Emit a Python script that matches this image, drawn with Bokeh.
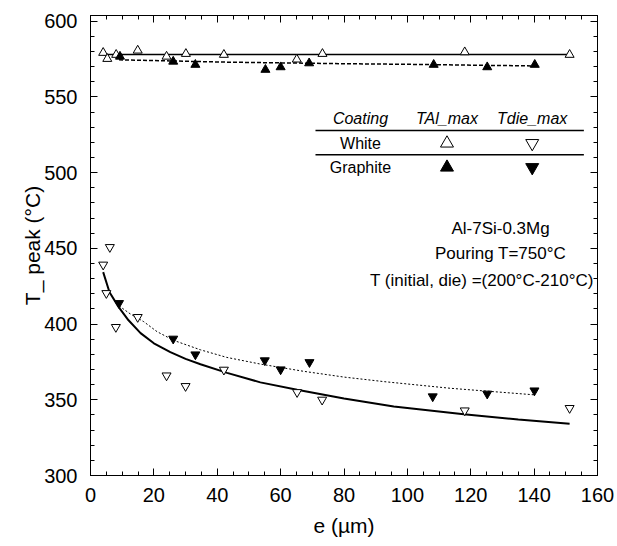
from bokeh.plotting import figure
from bokeh.models import Range1d, LinearAxis, FixedTicker, Label
from bokeh.embed import file_html
from bokeh.resources import INLINE

# ---------------- data ----------------
white_al_x = [4.0, 5.3, 8.1, 14.9, 24.0, 30.1, 42.1, 65.1, 73.2, 118.1, 151.2]
white_al_y = [579.2, 575.2, 577.9, 580.7, 576.7, 578.5, 577.9, 574.8, 578.5, 579.6, 577.9]

graph_al_x = [9.3, 26.1, 33.1, 55.2, 60.0, 69.0, 108.3, 125.2, 140.2]
graph_al_y = [576.7, 573.4, 571.3, 568.0, 569.7, 572.3, 571.3, 569.7, 571.3]

white_die_x = [4.0, 5.0, 6.1, 8.0, 14.9, 24.0, 30.0, 42.1, 65.2, 73.1, 118.1, 151.2]
white_die_y = [439.2, 420.4, 450.8, 398.0, 404.6, 366.0, 359.0, 369.8, 355.0, 350.0, 342.9, 344.5]

graph_die_x = [9.0, 26.1, 33.1, 55.0, 60.0, 69.1, 108.0, 125.2, 140.1]
graph_die_y = [413.8, 390.3, 379.9, 376.0, 370.0, 374.8, 352.2, 354.0, 356.1]

# fitted curves
fit_white_al_x = [4.0, 151.2]
fit_white_al_y = [578.1, 578.1]
fit_graph_al_x = [9.0, 25.0, 43.0, 64.0, 79.0, 107.0, 116.0, 140.0]
fit_graph_al_y = [574.5, 573.8, 573.0, 572.4, 572.0, 571.4, 571.1, 570.5]
fit_white_die_x = [4.0, 6.0, 8.9, 12.0, 15.8, 20.0, 25.2, 30.0, 34.7, 43.1, 53.6,
                   65.2, 80.0, 95.7, 117.8, 135.0, 151.2]
fit_white_die_y = [434.3, 421.0, 411.2, 402.5, 394.0, 387.3, 381.5, 377.0, 373.5, 367.8, 361.5,
                   356.6, 350.8, 345.5, 340.5, 337.0, 334.1]
fit_graph_die_x = [9.0, 12.5, 16.8, 21.0, 26.3, 34.7, 43.0, 53.6, 67.3, 80.0, 92.6, 113.6, 139.9]
fit_graph_die_y = [412.0, 406.8, 401.6, 395.0, 389.2, 383.0, 378.0, 373.6, 368.8, 365.0, 362.0, 357.6, 353.3]

x_ticks = [0, 20, 40, 60, 80, 100, 120, 140, 160]
x_minor = [v * 5 for v in range(0, 33)]
y_ticks = [300, 350, 400, 450, 500, 550, 600]
y_minor = [300 + v * 10 for v in range(0, 31)]

table_header = ["Coating", "TAl_max", "Tdie_max"]
table_rows = ["White", "Graphite"]
notes = ["Al-7Si-0.3Mg", "Pouring T=750°C", "T (initial, die) =(200°C-210°C)"]

FONT = "Liberation Sans"

p = figure(frame_width=507, frame_height=460,
           x_range=Range1d(0, 160), y_range=Range1d(300, 603.8),
           output_backend="svg", toolbar_location=None,
           min_border_left=90, min_border_right=18,
           min_border_top=15, min_border_bottom=66,
           background_fill_color="white", border_fill_color="white")
p.xgrid.visible = False
p.ygrid.visible = False
p.outline_line_color = "black"
p.outline_line_width = 1

xt = FixedTicker(ticks=x_ticks, minor_ticks=x_minor)
yt = FixedTicker(ticks=y_ticks, minor_ticks=y_minor)

def style(ax, labels=True):
    ax.axis_line_color = "black"
    ax.major_tick_line_color = "black"
    ax.minor_tick_line_color = "black"
    ax.major_tick_in = 7
    ax.major_tick_out = 0
    ax.minor_tick_in = 4
    ax.minor_tick_out = 0
    if labels:
        ax.major_label_text_font = FONT
        ax.major_label_text_font_size = "20px"
        ax.major_label_text_color = "black"
        ax.axis_label_text_font = FONT
        ax.axis_label_text_font_size = "21px"
        ax.axis_label_text_font_style = "normal"
        ax.axis_label_text_color = "black"
    else:
        ax.major_label_text_font_size = "0px"
        ax.major_label_text_alpha = 0
        ax.major_label_standoff = 0
        ax.axis_label = None

p.xaxis.ticker = xt
p.yaxis.ticker = yt
style(p.xaxis[0])
style(p.yaxis[0])
p.xaxis.axis_label = "e (µm)"
p.yaxis.axis_label = "T_ peak (°C)"
p.xaxis.major_label_standoff = 12
p.xaxis.axis_label_standoff = 9
p.yaxis.major_label_standoff = 13
p.yaxis.axis_label_standoff = -3

top = LinearAxis(ticker=xt)
style(top, labels=False)
top.major_label_overrides = {t: "" for t in x_ticks}
p.add_layout(top, "above")
right = LinearAxis(ticker=yt)
style(right, labels=False)
right.major_label_overrides = {t: "" for t in y_ticks}
p.add_layout(right, "right")

# fit lines
p.line(fit_white_al_x, fit_white_al_y, line_color="black", line_width=1.5)
p.line(fit_graph_al_x, fit_graph_al_y, line_color="black", line_width=1.5, line_dash="4 2")
p.line(fit_white_die_x, fit_white_die_y, line_color="black", line_width=2)
p.line(fit_graph_die_x, fit_graph_die_y, line_color="black", line_width=1, line_dash="2 2")

# points
MS = 9
p.scatter(white_al_x, white_al_y, marker="triangle", size=MS,
          fill_color="white", line_color="black", line_width=1)
p.scatter(graph_al_x, graph_al_y, marker="triangle", size=MS,
          fill_color="black", line_color="black")
p.scatter(white_die_x, white_die_y, marker="inverted_triangle", size=MS,
          fill_color="white", line_color="black", line_width=1)
p.scatter(graph_die_x, graph_die_y, marker="inverted_triangle", size=MS,
          fill_color="black", line_color="black")

# ---- table legend ----
col_x = [85.2, 112.5, 139.4]
hdr_y = 535.5
row_y = [519.4, 503.5]
rule_y = [527.8, 511.9]
rule_x = [71.0, 155.7]

for t, cx in zip(table_header, col_x):
    p.add_layout(Label(x=cx, y=hdr_y, text=t, text_font=FONT, text_font_size="16px",
                       text_font_style="italic", text_align="center",
                       text_baseline="middle", text_color="black"))
for t, ry in zip(table_rows, row_y):
    p.add_layout(Label(x=col_x[0], y=ry, text=t, text_font=FONT, text_font_size="16px",
                       text_align="center", text_baseline="middle", text_color="black"))
for ry in rule_y:
    p.line(rule_x, [ry, ry], line_color="black", line_width=1.5)

p.scatter([col_x[1]], [row_y[0]], marker="triangle", size=13,
          fill_color="white", line_color="black", line_width=1)
p.scatter([col_x[2]], [row_y[0]], marker="inverted_triangle", size=13,
          fill_color="white", line_color="black", line_width=1)
p.scatter([col_x[1]], [row_y[1]], marker="triangle", size=13,
          fill_color="black", line_color="black")
p.scatter([col_x[2]], [row_y[1]], marker="inverted_triangle", size=13,
          fill_color="black", line_color="black")

# ---- notes ----
note_x = [129.4, 129.4, 123.5]
note_y = [462.9, 446.4, 428.7]
for t, nx, ny in zip(notes, note_x, note_y):
    p.add_layout(Label(x=nx, y=ny, text=t, text_font=FONT, text_font_size="17px",
                       text_align="center", text_baseline="middle", text_color="black"))

open("out.html", "w").write(file_html(p, INLINE))
